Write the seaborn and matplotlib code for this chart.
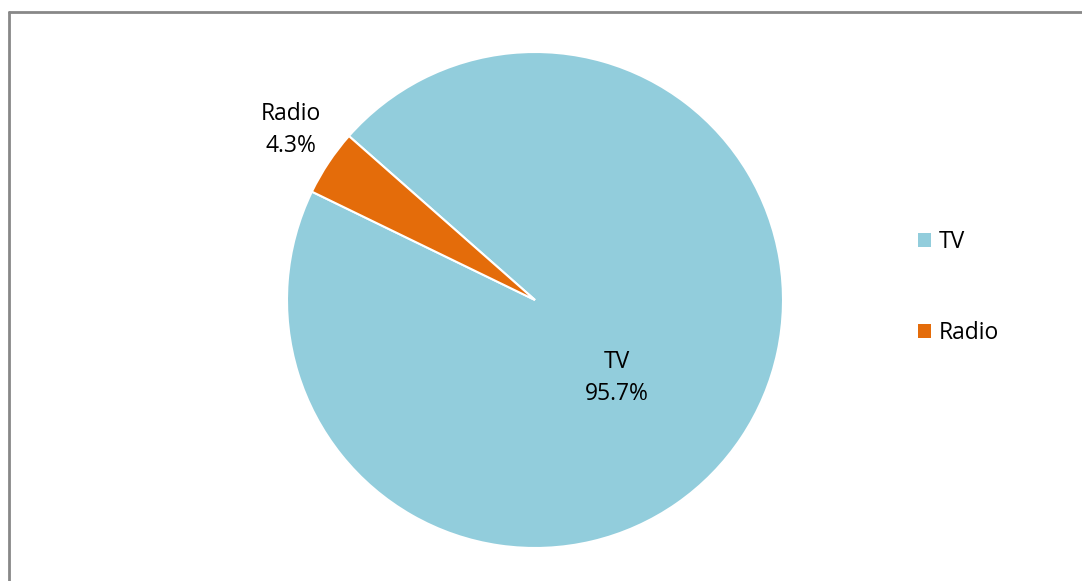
import matplotlib
matplotlib.use("Agg")
import matplotlib.pyplot as plt
import seaborn as sns
from matplotlib.patches import Patch
from matplotlib.lines import Line2D

sns.set_theme(style="white")
plt.rcParams['font.family'] = ['Open Sans', 'DejaVu Sans']

categories = ["TV", "Radio"]
values = [95.7, 4.3]
colors = ["#92CDDC", "#E46C0A"]

fig = plt.figure(figsize=(10.82, 5.81), dpi=100)
ax = fig.add_axes([(535 - 248) / 1082, (581 - 300 - 248) / 581, 496 / 1082, 496 / 581])

wedges, _ = ax.pie(values, colors=colors, startangle=154.1, counterclock=True,
                   wedgeprops=dict(edgecolor="white", linewidth=1.5))
ax.set_xlim(-1, 1)
ax.set_ylim(-1, 1)
ax.set_aspect("equal")
ax.axis("off")

label_pos = [(0.33, -0.315), (-0.985, 0.685)]
for (x, y), cat, v in zip(label_pos, categories, values):
    ax.text(x, y, f"{cat}\n{v:.1f}%", ha="center", va="center", fontsize=16.5,
            linespacing=1.45, color="black")

handles = [Patch(facecolor=c, edgecolor="none") for c in colors]
leg = fig.legend(handles, categories, loc="center left", bbox_to_anchor=(0.829, 0.505),
                 frameon=False, fontsize=16.5, labelspacing=2.9, handlelength=0.57,
                 handleheight=0.57, handletextpad=0.35)
for t in leg.get_texts():
    t.set_color("black")

# outer frame (top and left edges visible)
fig.add_artist(Line2D([8.5 / 1082, 8.5 / 1082], [0, 1 - 11.5 / 581], transform=fig.transFigure,
                      color="#888888", linewidth=2))
fig.add_artist(Line2D([8.5 / 1082, 1], [1 - 11.5 / 581, 1 - 11.5 / 581], transform=fig.transFigure,
                      color="#888888", linewidth=2))

fig.savefig("out.png", dpi=100)
